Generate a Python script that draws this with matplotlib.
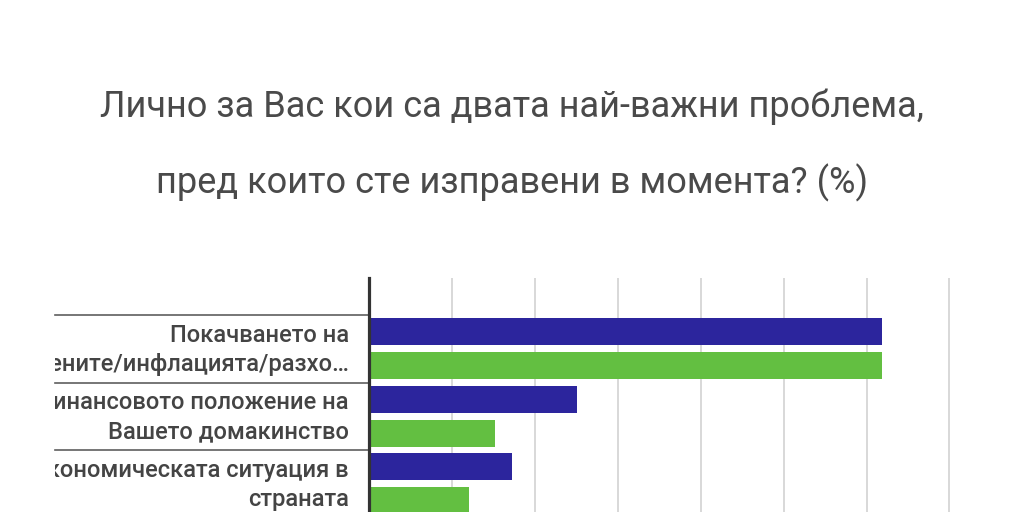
import matplotlib
matplotlib.use("Agg")
import matplotlib.pyplot as plt
from matplotlib.transforms import Bbox, TransformedBbox, blended_transform_factory

plt.rcParams['font.family'] = ['Roboto', 'DejaVu Sans']

title_lines = ["Лично за Вас кои са двата най-важни проблема,",
               "пред които сте изправени в момента? (%)"]
categories = ["Покачването на\nцените/инфлацията/разхо…",
              "Финансовото положение на\nВашето домакинство",
              "Икономическата ситуация в\nстраната"]
series_a = [61.9, 25.1, 17.3]
series_b = [61.9, 15.2, 12.1]
x_ticks = [0, 10, 20, 30, 40, 50, 60, 70]

W, H = 1024, 512
fig = plt.figure(figsize=(W / 100, H / 100), dpi=100)
fig.patch.set_facecolor('white')

ax_left, ax_right, ax_top = 368.5, 949.5, 277.7
ax = fig.add_axes([ax_left / W, 0, (ax_right - ax_left) / W, (H - ax_top) / H])
ppu = 67.5
first_boundary = 315.0
y_top = (ax_top - first_boundary) / ppu
y_bot = (H - first_boundary) / ppu
ax.set_ylim(y_bot, y_top)
ax.set_xlim(x_ticks[0], x_ticks[-1])

blue = '#2c259d'
green = '#63bf41'
for i, (a, b) in enumerate(zip(series_a, series_b)):
    ax.barh(i + 0.25, a, height=0.4, color=blue, zorder=3)
    ax.barh(i + 0.75, b, height=0.4, color=green, zorder=3)

ax.set_xticks(x_ticks)
ax.set_xticklabels([])
ax.tick_params(axis='x', length=0)
ax.set_yticks([])
ax.grid(axis='x', color='#d6d6d6', linewidth=1.3, zorder=0)
ax.set_axisbelow(True)
for s in ['top', 'right', 'bottom']:
    ax.spines[s].set_visible(False)
ax.spines['left'].set_color('#333333')
ax.spines['left'].set_linewidth(2.3)
ax.spines['left'].set_zorder(5)

sep_tr = blended_transform_factory(fig.transFigure, ax.transData)
for i in range(len(categories)):
    ax.plot([55 / W, ax_left / W], [i, i], transform=sep_tr, color='#5f5f5f',
            linewidth=1.2, clip_on=False, zorder=4)

clip = TransformedBbox(Bbox.from_extents(55 / W, 0, 1, 1), fig.transFigure)
offsets = [-7.0, 22.5]
for i, lab in enumerate(categories):
    for k, line in enumerate(lab.split("\n")):
        t = ax.text(349 / W, i + 0.5 + offsets[k] / ppu, line, transform=sep_tr,
                    ha='right', va='baseline', fontsize=17.1, fontweight='medium',
                    color='#444444')
        t.set_clip_on(True)
        t.set_clip_box(clip)

for k, line in enumerate(title_lines):
    fig.text(0.5, 1 - (116.7 + 77 * k) / H, line, ha='center', va='baseline',
             fontsize=26, color='#4a4a4a')

fig.savefig("out.png", dpi=100, facecolor='white')
